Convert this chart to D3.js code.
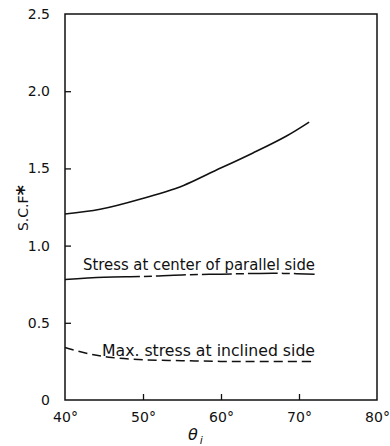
<!DOCTYPE html>
<html lang="en">
<head>
<meta charset="UTF-8">
<title>S.C.F vs theta</title>
<script src="https://cdn.jsdelivr.net/npm/d3@7"></script>
<style>
  body { margin: 0; background: #fff; }
  text { font-family: "DejaVu Sans", sans-serif; fill: #111; }
</style>
</head>
<body>
<script>
    // data
    var xTicks = [40, 50, 60, 70, 80];
    var yTicks = [0, 0.5, 1.0, 1.5, 2.0, 2.5];
    var yTickLabels = ["0", "0.5", "1.0", "1.5", "2.0", "2.5"];

    var upperTheta = [40, 44.5, 49.6, 55.2, 58.6, 64.1, 68.4, 71.3];
    var upperScf = [1.205, 1.235, 1.30, 1.39, 1.47, 1.60, 1.71, 1.80];

    var parallelTheta = [40, 45, 50, 55, 60, 65, 68, 72];
    var parallelScf = [0.78, 0.795, 0.80, 0.81, 0.815, 0.82, 0.82, 0.815];

    var inclinedTheta = [40, 43, 46, 50, 55, 60, 65, 72];
    var inclinedScf = [0.34, 0.30, 0.275, 0.26, 0.255, 0.25, 0.25, 0.25];

    // svg size and plot box (note: "top" is a window global, so use other names)
    var w = 390, h = 446;
    var pL = 65, pR = 377, pT = 14, pB = 400;

    var svg = d3.select("body").append("svg")
        .attr("width", w)
        .attr("height", h);

    var x = d3.scaleLinear().domain([40, 80]).range([pL, pR]);
    var y = d3.scaleLinear().domain([0, 2.5]).range([pB, pT]);

    // frame
    svg.append("rect")
        .attr("x", pL).attr("y", pT)
        .attr("width", pR - pL).attr("height", pB - pT)
        .attr("fill", "none").attr("stroke", "#111").attr("stroke-width", 1.5);

    // axes with inward ticks
    var xAxis = d3.axisBottom(x).tickValues(xTicks).tickSize(-6).tickPadding(9)
        .tickFormat(function (d) { return d + "°"; });
    var gx = svg.append("g").attr("transform", "translate(0," + pB + ")").call(xAxis);
    gx.select(".domain").remove();
    gx.selectAll("line").attr("stroke", "#111").attr("stroke-width", 1.3);
    gx.selectAll("text").attr("font-size", 14).attr("dy", "0.9em");
    gx.selectAll(".tick").filter(function (d) { return d === 40 || d === 80; }).select("line").remove();

    var yAxis = d3.axisLeft(y).tickValues(yTicks).tickSize(-6).tickPadding(15)
        .tickFormat(function (d, i) { return yTickLabels[i]; });
    var gy = svg.append("g").attr("transform", "translate(" + pL + ",0)").call(yAxis);
    gy.select(".domain").remove();
    gy.selectAll("line").attr("stroke", "#111").attr("stroke-width", 1.3);
    gy.selectAll("text").attr("font-size", 14);
    gy.selectAll(".tick").filter(function (d) { return d === 0 || d === 2.5; }).select("line").remove();

    var line = d3.line()
        .x(function (d) { return x(d[0]); })
        .y(function (d) { return y(d[1]); })
        .curve(d3.curveCatmullRom);

    function pairs(a, b) { return a.map(function (v, i) { return [v, b[i]]; }); }

    svg.append("path")
        .datum(pairs(upperTheta, upperScf))
        .attr("d", line)
        .attr("fill", "none").attr("stroke", "#111").attr("stroke-width", 1.6);

    svg.append("path")
        .datum(pairs(parallelTheta, parallelScf))
        .attr("d", line)
        .attr("fill", "none").attr("stroke", "#111").attr("stroke-width", 1.5)
        .attr("stroke-dasharray", "75,4,8,4,30,4,8,4,30,4,8,4,30,4,8,4,30");

    svg.append("path")
        .datum(pairs(inclinedTheta, inclinedScf))
        .attr("d", line)
        .attr("fill", "none").attr("stroke", "#111").attr("stroke-width", 1.5)
        .attr("stroke-dasharray", "9,5");

    // curve labels
    svg.append("text")
        .attr("x", 83).attr("y", 270)
        .attr("font-size", 15)
        .attr("textLength", 232).attr("lengthAdjust", "spacingAndGlyphs")
        .text("Stress at center of parallel side");

    svg.append("text")
        .attr("x", 102).attr("y", 356)
        .attr("font-size", 15)
        .attr("textLength", 213).attr("lengthAdjust", "spacingAndGlyphs")
        .text("Max. stress at inclined side");

    // y label
    var yl = svg.append("text")
        .attr("transform", "translate(28,208) rotate(-90)")
        .attr("text-anchor", "middle")
        .attr("font-size", 14);
    yl.append("tspan").text("S.C.F");
    yl.append("tspan").attr("font-size", 20).attr("font-weight", "bold").attr("dy", "0.1em").text("*");

    // x label
    var xl = svg.append("text")
        .attr("x", 188).attr("y", 440)
        .attr("font-family", "DejaVu Serif, serif")
        .attr("font-style", "italic")
        .attr("font-size", 16);
    xl.append("tspan").text("θ");
    xl.append("tspan").attr("font-size", 11).attr("dy", 4).attr("dx", 2).text("i");
</script>
</body>
</html>
